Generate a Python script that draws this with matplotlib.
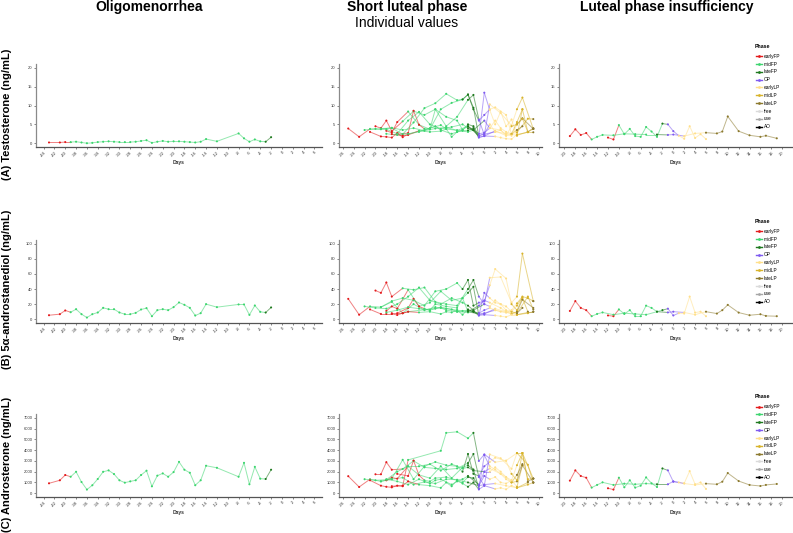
import matplotlib.pyplot as plt
from matplotlib.lines import Line2D

plt.rcParams['font.family'] = ['Liberation Sans', 'DejaVu Sans']

# --------- Phases / colours ---------
phase_names = ['earlyFP', 'midFP', 'lateFP', 'OP', 'earlyLP', 'midLP', 'lateLP', 'free', 'use', 'AO']
phase_colors = ['#E41A1C', '#3DD66F', '#1F7A1F', '#7F5AF0', '#FFE08A', '#D8B32A', '#8C7A2E',
                '#DADADA', '#A6A6A6', '#000000']
phase_code = {'e': 'earlyFP', 'm': 'midFP', 'l': 'lateFP', 'o': 'OP',
              'E': 'earlyLP', 'M': 'midLP', 'L': 'lateLP'}

# --------- Oligomenorrhea (one cycle) ---------
oligo_days = [[-43, -41, -40, -39, -38, -37, -36, -35, -34, -33, -32, -31, -30, -29, -28, -27, -26,
               -25, -24, -23, -22, -21, -20, -19, -18, -17, -16, -15, -14, -12, -8, -7, -6, -5, -4, -3, -2]]
oligo_phase = ['eee' + 'm' * 32 + 'll']
oligo_testo = [[0.2, 0.2, 0.3, 0.3, 0.4, 0.2, 0.0, 0.1, 0.3, 0.4, 0.5, 0.4, 0.3, 0.3, 0.3, 0.4, 0.6,
                0.8, 0.1, 0.4, 0.6, 0.4, 0.5, 0.5, 0.4, 0.3, 0.2, 0.4, 1.1, 0.5, 2.6, 1.3, 0.4, 1.0, 0.5, 0.4, 1.6]]
oligo_adiol = [[5.3, 6.7, 11.6, 9.3, 13.3, 6.7, 2.2, 6.7, 8.9, 15.1, 13.3, 13.3, 8.9, 6.7, 6.7, 8.4, 12.9,
                14.7, 4.0, 12.0, 13.3, 12.0, 16.0, 22.2, 19.1, 15.1, 4.9, 8.0, 20.0, 16.0, 19.6, 19.6, 5.8, 18.2,
                9.8, 8.9, 15.6]]
oligo_andro = [[920, 1200, 1690, 1530, 1990, 1040, 340, 740, 1320, 1990, 2120, 1780, 1200, 980, 1100, 1200,
                1690, 2090, 640, 1630, 1840, 1530, 1960, 2910, 2180, 1900, 740, 1200, 2550, 2360, 1530, 2820,
                830, 2450, 1350, 1320, 2180]]

# --------- Short luteal phase (individual cycles) ---------
slp_days = [
    [-25, -23, -21, -19, -17, -15, -13, -11, -9, -7, -5, -3, -1, 0, 2, 4, 6, 8],
    [-20, -19, -18, -17, -15, -13, -11, -9, -7, -5, -3, -2, -1, 0, 1, 3, 5, 6, 7, 9],
    [-21, -19, -18, -17, -16, -15, -14, -8, -7, -5, -3, -2, -1, 0, 2, 4, 6, 8, 9],
    [-18, -17, -16, -14, -12, -10, -8, -6, -4, -3, -2, -1, 0, 1, 2, 3, 4, 5, 6, 7],
    [-16, -14, -13, -12, -11, -10, -9, -7, -5, -4, -3, -1, 0, 1, 3, 4, 5, 6, 7, 9],
    [-19, -17, -15, -13, -11, -9, -7, -5, -4, -3, -2, -1, 0, 1, 2, 4, 5, 6, 7, 8, 9],
    [-17, -15, -14, -12, -10, -8, -7, -6, -5, -4, -3, -2, -1, 0, 2, 3, 4, 5, 6, 8, 9],
    [-22, -20, -18, -16, -14, -12, -10, -8, -6, -4, -3, -2, 0, 1, 2, 3, 4, 5, 6, 7],
    [-18, -16, -14, -12, -10, -9, -8, -6, -5, -4, -3, -2, -1, 0, 1, 2, 3, 4, 5, 6, 7, 8, 9],
]
slp_phase = [
    'eemmmmmmmmmlooEEML',
    'eeeemmmmmmllooEEEMML',
    'eeeeeemmmmmlooEEMML',
    'eeemmmmmmllooEEEEEMM',
    'eeeemmmmmmlooEEEMLLL',
    'mmmmmmmmllloo' + 'EEEMMMLL',
    'eeemmmmmmmllooEEEEMML',
    'mmmmmmmmmmlloEEEEMLL',
    'mmmmmmmmmmlloo' + 'EEEEEMMML',
]
slp_testo = [
    [3.9, 1.7, 3.8, 3.7, 4.1, 3.5, 4.0, 3.3, 3.9, 4.2, 3.4, 4.5, 2.0, 2.4, 3.0, 2.6, 2.1, 3.0],
    [4.5, 4.0, 6.0, 3.2, 5.8, 8.5, 7.5, 9.0, 4.5, 7.0, 11.5, 12.8, 6.3, 2.2, 10.3, 8.0, 4.7, 9.0, 12.1, 3.8],
    [3.0, 1.8, 1.7, 1.5, 2.7, 1.6, 2.4, 4.8, 3.8, 3.4, 3.0, 3.5, 1.6, 1.9, 3.3, 2.0, 2.9, 6.5, 6.4],
    [3.3, 2.8, 5.6, 8.4, 4.9, 3.7, 9.0, 10.7, 11.6, 12.9, 9.4, 1.8, 13.4, 8.8, 5.0, 8.4, 4.5, 6.3, 2.0, 9.0],
    [2.4, 2.7, 8.6, 4.9, 3.8, 3.7, 9.0, 7.0, 6.0, 3.6, 4.5, 2.5, 2.8, 4.0, 3.5, 2.0, 4.5, 5.0, 6.6, 3.8],
    [3.9, 4.0, 2.4, 5.5, 9.3, 10.6, 13.1, 11.4, 11.6, 12.9, 9.0, 6.0, 7.5, 9.0, 9.5, 7.5, 2.4, 5.6, 9.0, 3.0, 4.0],
    [2.4, 2.0, 2.2, 3.3, 3.0, 3.2, 3.8, 1.7, 3.0, 3.3, 3.4, 4.0, 1.5, 1.9, 1.8, 1.5, 1.2, 1.1, 2.3, 2.9, 2.9],
    [3.5, 3.8, 3.7, 2.5, 6.0, 8.3, 5.0, 3.8, 4.3, 5.0, 4.0, 3.5, 6.0, 4.0, 6.0, 4.0, 3.0, 2.5, 3.5, 4.5],
    [2.5, 2.2, 2.5, 3.0, 4.0, 4.5, 3.5, 2.5, 3.0, 3.5, 5.0, 4.5, 2.0, 2.5, 5.0, 3.0, 3.5, 2.3, 2.0, 5.0, 6.5, 3.0, 3.8],
]
slp_adiol = [
    [27, 6, 17, 16, 23, 8, 20, 12, 16, 14, 12, 10, 7, 8, 12, 9, 6, 9],
    [38, 35, 48.7, 30, 41, 39, 42, 23, 20, 18, 40, 52, 30, 20, 55, 56, 22, 30, 87, 24],
    [13, 7, 7, 7, 5.6, 8, 10, 15, 12, 10, 9, 11, 6, 7, 14, 10, 8, 30, 13],
    [11, 17, 14, 39, 17, 22, 37, 25, 28, 35, 43, 5, 35, 28, 22, 20, 17, 10, 18, 28.7],
    [8, 15, 27, 17, 14, 12, 20, 17, 15, 28, 10, 18, 25, 22, 15, 10, 7, 10, 26, 15],
    [16, 24, 28, 25, 18, 37, 40, 48, 40, 52, 18, 22, 24, 45, 66.5, 54, 20, 12, 28, 10, 10],
    [8, 8, 10, 9, 10, 7, 10, 9, 12, 6, 13, 10, 5, 6, 5, 4, 3, 6, 6, 8, 10],
    [17, 15, 14, 20, 30, 42, 25, 20, 28, 22, 18, 12, 20, 17, 25, 20, 12, 10, 8, 15],
    [9, 12, 16, 14, 12, 14, 16, 13, 10, 11, 12, 10, 8, 12, 15, 12, 10, 9, 12, 21, 30, 28, 24],
]
slp_andro = [
    [1580, 580, 1300, 1100, 1300, 1450, 800, 1050, 900, 1300, 1250, 1000, 700, 800, 900, 700, 500, 1000],
    [1760, 1760, 2880, 2180, 2250, 3000, 2400, 2300, 2200, 2300, 2800, 3640, 1500, 700, 3600, 3240, 2270,
     3730, 3730, 1360],
    [1200, 700, 600, 545, 700, 650, 3090, 3940, 5600, 5700, 5100, 5600, 3000, 3600, 2880, 3030, 3730, 2640, 970],
    [1200, 1450, 1350, 2500, 1700, 1400, 2500, 1400, 2400, 2600, 2200, 450, 3540, 2500, 2200, 1800, 1500,
     1200, 600, 2580],
    [1800, 1600, 3030, 1670, 1200, 1100, 1400, 1500, 1200, 1300, 1600, 800, 2000, 2300, 1800, 1300, 1000,
     1100, 2600, 1000],
    [1100, 1350, 3100, 1300, 2500, 2900, 2600, 2500, 2000, 3640, 1800, 1600, 2500, 2900, 3300, 3000, 1800,
     1200, 3730, 1100, 1360],
    [650, 700, 1100, 800, 700, 500, 1000, 650, 1200, 900, 600, 1000, 350, 700, 400, 500, 360, 700, 500, 800, 1000],
    [1300, 1200, 1250, 2000, 2500, 2500, 2700, 2100, 2700, 2300, 2400, 2100, 2000, 2000, 2400, 2000, 1500,
     1000, 1700, 2700],
    [1300, 1100, 800, 1300, 900, 1200, 1300, 800, 1100, 1000, 1500, 1400, 700, 1600, 1300, 1500, 1000, 900,
     1200, 2600, 3730, 1300, 1360],
]

# --------- Luteal phase insufficiency (two cycles) ---------
lpi_days = [
    [-12, -11, -10, -9, -8, -7, -6, -5, -4, -3, -2, -1, 0, 1, 2, 3, 4, 5, 6],
    [-19, -18, -17, -16, -15, -14, -13, -11, -9, -7, -5, -3, -1, 0, 2, 4, 6, 8, 9, 10, 12, 14, 16, 17, 19],
]
lpi_phase = ['eemmmmmmmmlooEEEEEE', 'eeeemmmmmmmlooEELLLLLLLLL']
lpi_testo = [
    [1.5, 1.0, 4.8, 2.4, 3.8, 1.9, 1.7, 4.3, 3.1, 1.7, 5.2, 5.0, 3.2, 2.0, 1.2, 4.5, 1.4, 2.4, 1.1],
    [1.9, 3.7, 2.2, 2.7, 1.0, 1.7, 2.2, 2.1, 2.5, 2.4, 2.3, 2.3, 2.2, 2.3, 1.9, 2.6, 2.8, 2.6, 3.1, 7.1,
     3.2, 2.1, 1.7, 2.0, 1.3],
]
lpi_adiol = [
    [5, 4, 13, 7, 12, 4, 4, 18, 15, 10, 12, 14, 5, 8, 7.5, 30, 8.8, 10, 4],
    [11, 24, 15, 12, 4, 7, 9, 6, 8, 7, 6, 10, 9, 10, 9, 6, 10, 7.5, 12, 19, 8.8, 5.3, 6.6, 4.4, 4],
]
lpi_andro = [
    [460, 340, 1440, 550, 1200, 520, 700, 1470, 920, 580, 2300, 2120, 1070, 1000, 920, 2050, 830, 1000, 400],
    [1170, 2120, 1600, 1440, 520, 770, 1010, 770, 890, 830, 900, 830, 830, 1100, 900, 770, 890, 830, 1070,
     1870, 1130, 770, 670, 770, 860],
]

col_titles = ['Oligomenorrhea', 'Short luteal phase', 'Luteal phase insufficiency']
row_labels = ['(A) Testosterone (ng/mL)', '(B) 5α-androstanediol (ng/mL)', '(C) Androsterone (ng/mL)']
x_ticks = [list(range(-44, 7, 2)), list(range(-26, 11, 2)), list(range(-20, 21, 2))]
y_ticks = [[0, 5, 10, 15, 20], [0, 20, 40, 60, 80, 100], [0, 1000, 2000, 3000, 4000, 5000, 6000, 7000]]

# --------- Layout (pixels) ---------
W, H = 793, 533
col_px = [(36, 322), (339, 542), (559, 792)]
row_px = [(64, 147), (240, 323), (414, 497)]
x_lims = [(-45.4, 7.4), (-26.7, 10.6), (-21.0, 21.8)]
y_lims = [(-1, 21), (-5, 105), (-350, 7350)]

fig = plt.figure(figsize=(W / 100, H / 100), dpi=100)


def color_of(code):
    return phase_colors[phase_names.index(phase_code[code])]


def draw_cycle(ax, days, phases, values):
    cols = [color_of(p) for p in phases]
    for i in range(len(days) - 1):
        ax.plot(days[i:i + 2], values[i:i + 2], color=cols[i], lw=0.7, alpha=0.55)
    ax.scatter(days, values, c=cols, s=2.2, linewidths=0, zorder=3)


groups = [
    (oligo_days, oligo_phase, [oligo_testo, oligo_adiol, oligo_andro]),
    (slp_days, slp_phase, [slp_testo, slp_adiol, slp_andro]),
    (lpi_days, lpi_phase, [lpi_testo, lpi_adiol, lpi_andro]),
]

for r in range(3):
    y0, y1 = row_px[r]
    for c in range(3):
        x0, x1 = col_px[c]
        ax = fig.add_axes([x0 / W, 1 - y1 / H, (x1 - x0) / W, (y1 - y0) / H])
        days, phases, hormones = groups[c]
        for k in range(len(days)):
            draw_cycle(ax, days[k], phases[k], hormones[r][k])
        ax.set_xlim(*x_lims[c])
        ax.set_ylim(*y_lims[r])
        ax.set_xticks(x_ticks[c])
        ax.set_xticklabels([str(t) for t in x_ticks[c]], rotation=45, ha='right', rotation_mode='anchor')
        ax.set_yticks(y_ticks[r])
        for s in ['top', 'right']:
            ax.spines[s].set_visible(False)
        ax.spines['left'].set_color('#8a8a8a')
        ax.spines['bottom'].set_color('#555555')
        for s in ['left', 'bottom']:
            ax.spines[s].set_linewidth(0.9)
        ax.tick_params(length=1.5, width=0.5, color='#555555', labelsize=3, labelcolor='#333333', pad=1)
        ax.set_xlabel('Days', fontsize=3.6, fontweight='bold', color='#333333', labelpad=1.5)

# --------- Titles / row labels ---------
title_x = [149, 407, 667]
for c in range(3):
    fig.text(title_x[c] / W, 1 - 11 / H, col_titles[c], ha='center', va='baseline',
             fontsize=10, fontweight='bold')
fig.text(407 / W, 1 - 27 / H, 'Individual values', ha='center', va='baseline', fontsize=10)

row_label_y = [114, 289, 464]
for r in range(3):
    fig.text(7.5 / W, 1 - row_label_y[r] / H, row_labels[r], rotation=90, ha='center', va='center',
             fontsize=8, fontweight='bold')

# --------- Legends (one per row, beside the right panel) ---------
handles = [Line2D([0], [0], color=phase_colors[i], lw=1.0, marker='o', markersize=2,
                  markeredgewidth=0) for i in range(len(phase_names))]
legend_first = [56.5, 231.5, 407]
for r in range(3):
    fig.text(755 / W, 1 - (legend_first[r] - 10) / H, 'Phase', ha='left', va='center',
             fontsize=3.8, fontweight='bold')
    fig.legend(handles, phase_names, loc='upper left',
               bbox_to_anchor=(755.5 / W, 1 - (legend_first[r] - 2.8) / H),
               frameon=False, fontsize=3.4, labelspacing=0.6, handlelength=1.3,
               handletextpad=0.4, borderpad=0, borderaxespad=0)

fig.savefig('out.png', dpi=100)
